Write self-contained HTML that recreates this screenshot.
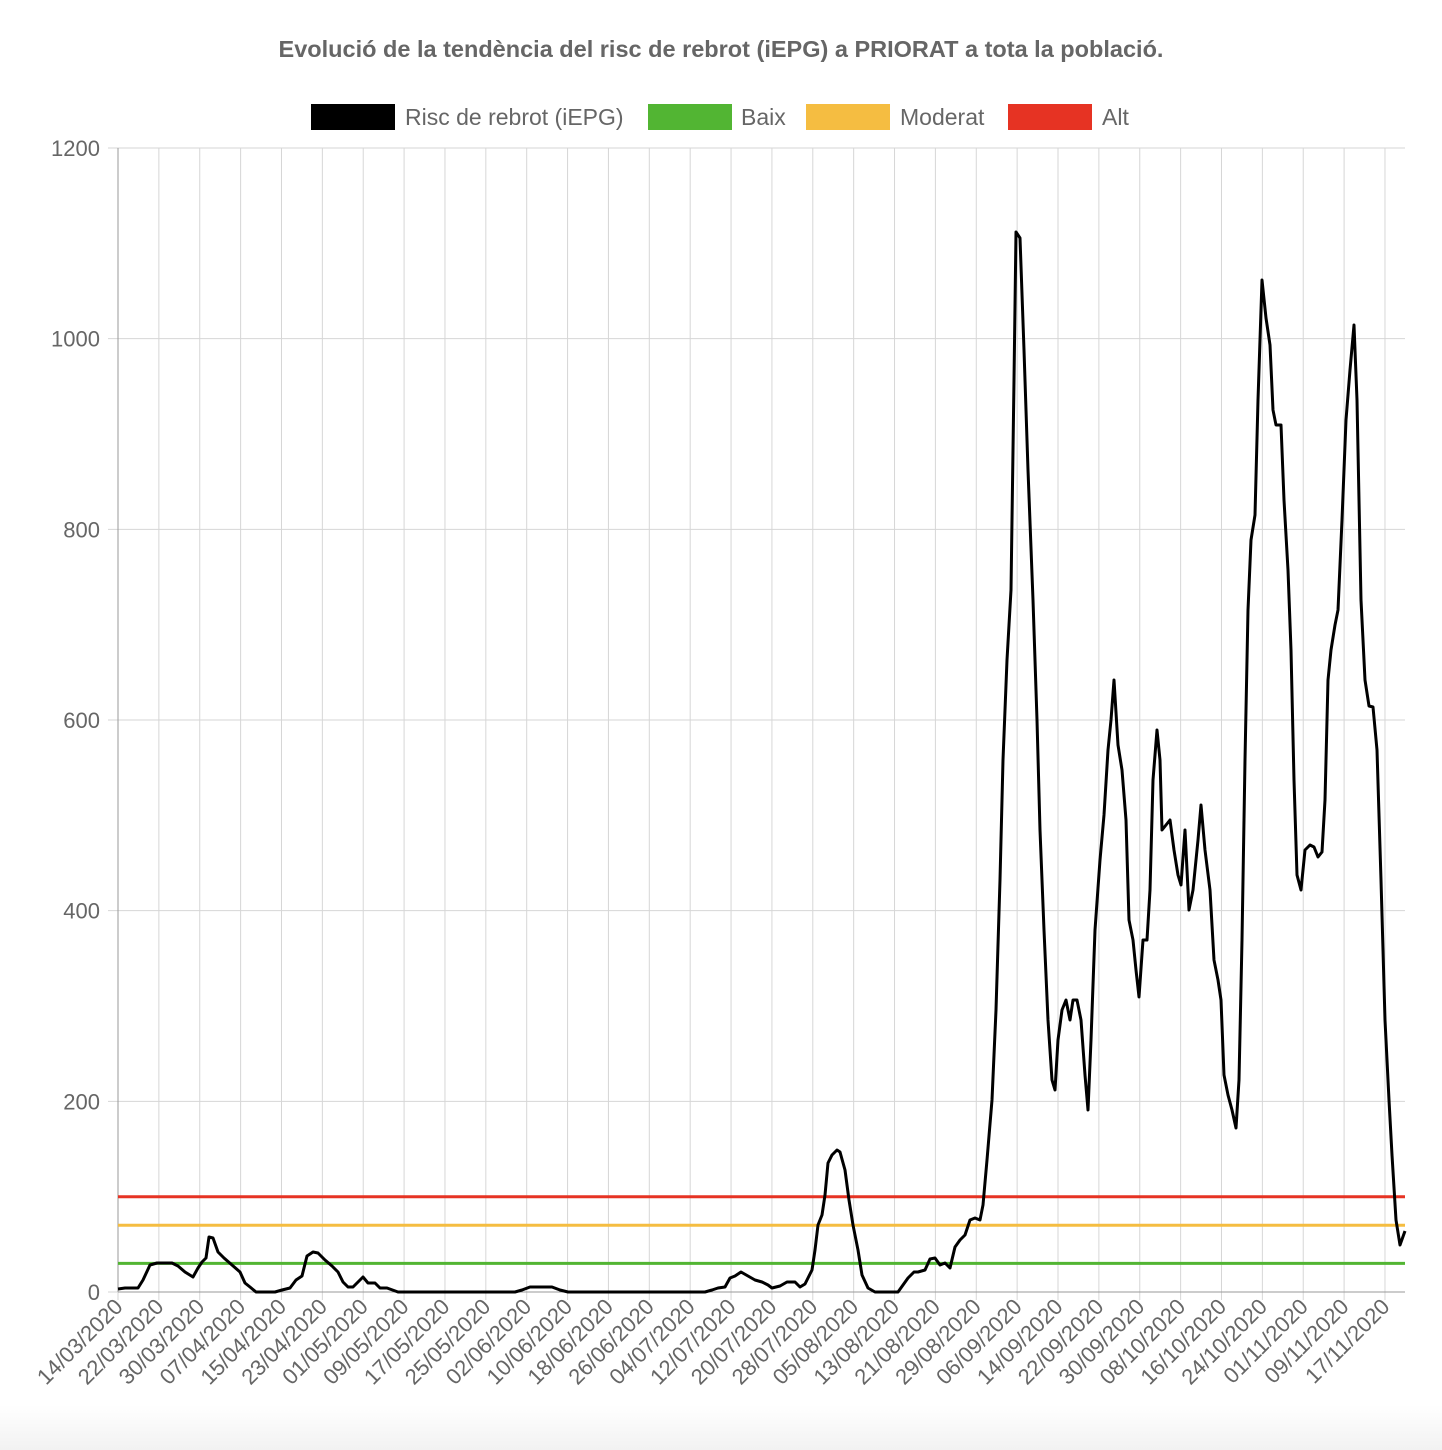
<!DOCTYPE html>
<html><head><meta charset="utf-8"><style>
html,body{margin:0;padding:0;background:#fff;}
svg{display:block;font-family:"Liberation Sans",Arial,sans-serif;}
</style></head><body>
<svg width="1442" height="1450" viewBox="0 0 1442 1450" xmlns="http://www.w3.org/2000/svg">
<defs><linearGradient id="sh" x1="0" y1="0" x2="0" y2="1"><stop offset="0" stop-color="#fff"/><stop offset="1" stop-color="#f2f2f2"/></linearGradient></defs>
<rect x="0" y="1405" width="1442" height="45" fill="url(#sh)"/>
<text x="721" y="57" text-anchor="middle" font-size="23.5" font-weight="bold" fill="#666">Evolució de la tendència del risc de rebrot (iEPG) a PRIORAT a tota la població.</text>
<g font-size="23" fill="#666">
<rect x="311" y="104" width="84" height="26" fill="#000"/><text x="405" y="125">Risc de rebrot (iEPG)</text>
<rect x="648" y="104" width="84" height="26" fill="#52b533"/><text x="741" y="125">Baix</text>
<rect x="806" y="104" width="84" height="26" fill="#f5bd41"/><text x="900" y="125">Moderat</text>
<rect x="1008" y="104" width="84" height="26" fill="#e63323"/><text x="1102" y="125">Alt</text>
</g>
<g stroke="#d6d6d6" stroke-width="1" id="grid"></g>
<g id="ylab" font-size="22" fill="#666" text-anchor="end"></g>
<g id="xlab" font-size="22" fill="#666" text-anchor="end"></g>
<line x1="118" y1="148" x2="118" y2="1292" stroke="#999"/>
<line x1="118" y1="1292" x2="1405" y2="1292" stroke="#999"/>
<line x1="118" y1="1196.7" x2="1405" y2="1196.7" stroke="#e63323" stroke-width="3"/>
<line x1="118" y1="1225.3" x2="1405" y2="1225.3" stroke="#f5bd41" stroke-width="3"/>
<line x1="118" y1="1263.4" x2="1405" y2="1263.4" stroke="#52b533" stroke-width="3"/>
<polyline fill="none" stroke="#000" stroke-width="3" stroke-linejoin="round" points="118,1289 125,1288 138,1288 143,1280 150,1265 157,1263 172,1263 178,1266 185,1272 193,1277 198,1268 202,1262 206,1258 209,1237 213,1238 218,1252 224,1258 232,1265 240,1272 245,1283 250,1287 256,1292 275,1292 282,1290 290,1288 296,1280 302,1276 307,1256 313,1252 318,1253 325,1260 332,1266 338,1272 343,1282 348,1287 353,1287 358,1282 363,1277 368,1283 375,1283 380,1288 387,1288 398,1292 515,1292 522,1290 530,1287 552,1287 560,1290 568,1292 705,1292 712,1290 718,1288 725,1287 730,1278 735,1276 741,1272 748,1276 755,1280 762,1282 768,1285 772,1288 780,1286 787,1282 795,1282 800,1287 805,1284 812,1270 815,1250 818,1225 822,1215 825,1195 828,1163 832,1155 837,1150 840,1152 845,1170 849,1200 853,1225 858,1250 862,1275 868,1288 875,1292 898,1292 903,1285 908,1278 914,1272 918,1272 925,1270 930,1259 935,1258 940,1265 945,1263 950,1268 955,1247 960,1240 965,1235 970,1220 975,1218 980,1220 983,1205 987,1160 992,1100 996,1010 1000,880 1003,760 1007,660 1011,590 1014,380 1016,232 1020,238 1024,350 1028,470 1033,600 1037,720 1040,830 1044,930 1048,1020 1052,1080 1055,1090 1058,1040 1062,1010 1066,1000 1070,1020 1073,1000 1077,1000 1081,1020 1085,1075 1088,1110 1091,1040 1095,930 1100,860 1104,815 1108,750 1111,720 1114,680 1118,745 1122,770 1126,820 1129,920 1133,940 1136,970 1139,997 1143,940 1147,940 1150,890 1153,780 1157,730 1160,760 1162,830 1166,825 1170,820 1174,850 1178,875 1181,885 1185,830 1189,910 1193,890 1198,840 1201,805 1205,850 1210,890 1214,960 1218,980 1221,1000 1224,1075 1228,1095 1232,1110 1236,1128 1239,1080 1242,940 1245,760 1248,610 1251,540 1255,515 1258,400 1262,280 1266,318 1270,345 1273,410 1276,425 1281,425 1284,500 1288,570 1291,650 1294,780 1297,875 1301,890 1305,850 1310,845 1314,847 1318,857 1322,852 1325,800 1328,680 1331,650 1335,625 1338,610 1342,520 1346,420 1350,370 1354,325 1357,400 1361,600 1365,680 1369,706 1373,707 1377,750 1381,880 1385,1020 1389,1100 1392,1155 1396,1220 1400,1245 1405,1231"/>
</svg>
<script>
var ns="http://www.w3.org/2000/svg";
var g=document.getElementById("grid"),yl=document.getElementById("ylab"),xl=document.getElementById("xlab");
function el(p,t,a){var e=document.createElementNS(ns,t);for(var k in a)e.setAttribute(k,a[k]);p.appendChild(e);return e;}
for(var i=0;i<=6;i++){var y=1292-i*190.67;el(g,"line",{x1:108,x2:1405,y1:y,y2:y});var t=el(yl,"text",{x:100,y:y+8});t.textContent=i*200;}
var labels="14/03/2020 22/03/2020 30/03/2020 07/04/2020 15/04/2020 23/04/2020 01/05/2020 09/05/2020 17/05/2020 25/05/2020 02/06/2020 10/06/2020 18/06/2020 26/06/2020 04/07/2020 12/07/2020 20/07/2020 28/07/2020 05/08/2020 13/08/2020 21/08/2020 29/08/2020 06/09/2020 14/09/2020 22/09/2020 30/09/2020 08/10/2020 16/10/2020 24/10/2020 01/11/2020 09/11/2020 17/11/2020".split(" ");
for(var j=0;j<labels.length;j++){var x=118+j*40.87;el(g,"line",{x1:x,x2:x,y1:148,y2:1300});var t=el(xl,"text",{x:x+6,y:1308,transform:"rotate(-45 "+(x+6)+" 1308)"});t.textContent=labels[j];}
</script>
</body></html>
